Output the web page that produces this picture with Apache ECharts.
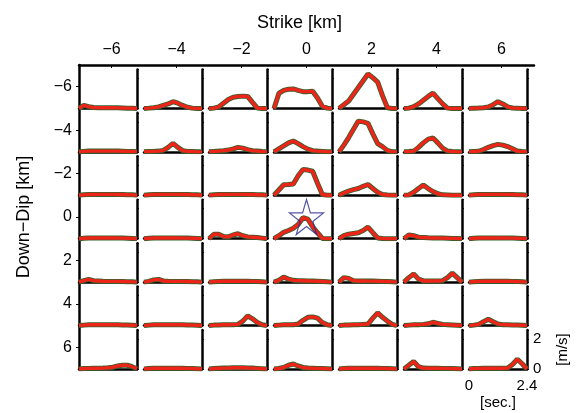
<!DOCTYPE html>
<html>
<head>
<meta charset="utf-8">
<title>Slip rate functions</title>
<script src="https://cdn.jsdelivr.net/npm/echarts@6/dist/echarts.min.js"></script>
<style>
html, body { margin: 0; padding: 0; background: #fff; }
#main { width: 577px; height: 413px; }
</style>
</head>
<body>
<div id="main"></div>
<script>
// time samples [sec.]
var times = [0, 0.2, 0.4, 0.6, 0.8, 1.0, 1.2, 1.4, 1.6, 1.8, 2.0, 2.2, 2.4];
var strikeKm = [-6, -4, -2, 0, 2, 4, 6];
var dipKm = [-6, -4, -2, 0, 2, 4, 6];
var hypocenter = [0, 0];
var timeLabels = [0, 2.4];

// slip rate [m/s], one array per down-dip row, cells from strike -6 to 6
var rowDipM6 = [
    [0, 0.2, 0.12, 0.06, 0.05, 0.05, 0.05, 0.05, 0.04, 0.03, 0.02, 0.01, 0],
    [0, 0.02, 0.05, 0.1, 0.2, 0.3, 0.45, 0.35, 0.2, 0.08, 0.02, 0, 0],
    [0, 0.02, 0.1, 0.35, 0.6, 0.75, 0.8, 0.82, 0.8, 0.4, 0.02, 0, 0],
    [0, 1.0, 1.2, 1.28, 1.3, 1.2, 1.12, 1.12, 1.15, 0.7, 0.15, 0.02, 0],
    [0, 0.25, 0.5, 0.95, 1.4, 1.85, 2.3, 2.05, 1.75, 0.85, 0.05, 0, 0],
    [0, 0.02, 0.12, 0.3, 0.55, 0.8, 1.02, 0.65, 0.3, 0.02, 0, 0, 0],
    [0, 0.02, 0.03, 0.05, 0.1, 0.25, 0.45, 0.3, 0.1, 0.03, 0.02, 0, 0]
];
var rowDipM4 = [
    [0, 0.03, 0.05, 0.05, 0.05, 0.05, 0.05, 0.05, 0.05, 0.04, 0.03, 0.02, 0],
    [0, 0.02, 0.03, 0.05, 0.1, 0.3, 0.57, 0.3, 0.08, 0.03, 0.02, 0, 0],
    [0, 0.03, 0.05, 0.08, 0.12, 0.2, 0.3, 0.25, 0.15, 0.08, 0.05, 0.02, 0],
    [0, 0.2, 0.4, 0.6, 0.72, 0.55, 0.35, 0.18, 0.08, 0.05, 0.03, 0.01, 0],
    [0, 0.45, 0.95, 1.5, 2.05, 2.0, 1.9, 1.2, 0.55, 0.35, 0.1, 0, 0],
    [0, 0.02, 0.05, 0.3, 0.6, 0.85, 0.92, 0.6, 0.25, 0.05, 0.02, 0, 0],
    [0, 0.02, 0.04, 0.15, 0.3, 0.42, 0.5, 0.45, 0.35, 0.2, 0.05, 0.02, 0]
];
var rowDipM2 = [
    [0, 0.03, 0.05, 0.05, 0.06, 0.06, 0.06, 0.06, 0.05, 0.05, 0.04, 0.03, 0],
    [0, 0.03, 0.05, 0.05, 0.06, 0.06, 0.06, 0.06, 0.05, 0.05, 0.04, 0.03, 0],
    [0, 0.03, 0.05, 0.05, 0.06, 0.06, 0.06, 0.06, 0.05, 0.05, 0.04, 0.03, 0],
    [0, 0.35, 0.7, 0.72, 0.75, 1.3, 1.72, 1.68, 1.6, 0.8, 0.05, 0, 0],
    [0, 0.15, 0.28, 0.38, 0.45, 0.6, 0.72, 0.45, 0.2, 0.05, 0.02, 0, 0],
    [0, 0.02, 0.2, 0.45, 0.68, 0.45, 0.25, 0.1, 0.03, 0.02, 0, 0, 0],
    [0, 0.03, 0.05, 0.05, 0.06, 0.06, 0.06, 0.06, 0.05, 0.05, 0.04, 0.03, 0]
];
var rowDip0 = [
    [0, 0.03, 0.05, 0.05, 0.05, 0.05, 0.05, 0.05, 0.05, 0.04, 0.03, 0.02, 0],
    [0, 0.03, 0.05, 0.05, 0.05, 0.05, 0.05, 0.05, 0.05, 0.04, 0.03, 0.02, 0],
    [0, 0.3, 0.3, 0.15, 0.12, 0.25, 0.33, 0.2, 0.12, 0.1, 0.08, 0.04, 0],
    [0, 0.2, 0.42, 0.55, 0.7, 0.95, 1.4, 1.3, 0.8, 0.4, 0.02, 0, 0],
    [0, 0.2, 0.3, 0.35, 0.4, 0.55, 0.77, 0.4, 0.05, 0.02, 0, 0, 0],
    [0, 0.25, 0.2, 0.1, 0.08, 0.06, 0.05, 0.05, 0.04, 0.03, 0.02, 0.01, 0],
    [0, 0.03, 0.05, 0.05, 0.05, 0.05, 0.05, 0.05, 0.05, 0.04, 0.03, 0.02, 0]
];
var rowDip2 = [
    [0, 0.1, 0.18, 0.1, 0.08, 0.06, 0.05, 0.05, 0.05, 0.04, 0.03, 0.02, 0],
    [0, 0.05, 0.15, 0.18, 0.08, 0.06, 0.05, 0.05, 0.05, 0.04, 0.03, 0.02, 0],
    [0, 0.03, 0.05, 0.06, 0.06, 0.06, 0.06, 0.06, 0.06, 0.05, 0.04, 0.02, 0],
    [0, 0.12, 0.33, 0.2, 0.12, 0.1, 0.09, 0.08, 0.07, 0.06, 0.04, 0.02, 0],
    [0, 0.3, 0.25, 0.1, 0.08, 0.08, 0.07, 0.07, 0.06, 0.05, 0.04, 0.02, 0],
    [0, 0.3, 0.55, 0.2, 0.08, 0.08, 0.08, 0.08, 0.1, 0.3, 0.6, 0.3, 0],
    [0, 0.03, 0.05, 0.06, 0.06, 0.06, 0.06, 0.06, 0.06, 0.05, 0.04, 0.02, 0]
];
var rowDip4 = [
    [0, 0.03, 0.05, 0.05, 0.05, 0.05, 0.05, 0.05, 0.05, 0.04, 0.03, 0.02, 0],
    [0, 0.03, 0.05, 0.05, 0.05, 0.05, 0.05, 0.05, 0.05, 0.04, 0.03, 0.02, 0],
    [0, 0.03, 0.04, 0.05, 0.05, 0.06, 0.08, 0.3, 0.65, 0.45, 0.2, 0.05, 0],
    [0, 0.03, 0.05, 0.05, 0.06, 0.1, 0.35, 0.55, 0.58, 0.5, 0.2, 0.05, 0],
    [0, 0.03, 0.04, 0.05, 0.06, 0.08, 0.1, 0.5, 0.85, 0.55, 0.3, 0.08, 0],
    [0, 0.03, 0.05, 0.06, 0.08, 0.12, 0.22, 0.15, 0.08, 0.06, 0.04, 0.02, 0],
    [0, 0.03, 0.08, 0.25, 0.42, 0.25, 0.1, 0.06, 0.05, 0.04, 0.03, 0.02, 0]
];
var rowDip6 = [
    [0, 0.03, 0.04, 0.05, 0.05, 0.06, 0.08, 0.12, 0.2, 0.25, 0.25, 0.15, 0.02],
    [0, 0.03, 0.05, 0.05, 0.05, 0.05, 0.05, 0.05, 0.05, 0.04, 0.03, 0.02, 0],
    [0, 0.03, 0.05, 0.06, 0.07, 0.08, 0.08, 0.08, 0.07, 0.06, 0.04, 0.02, 0],
    [0, 0.03, 0.1, 0.25, 0.33, 0.2, 0.1, 0.06, 0.05, 0.04, 0.03, 0.02, 0],
    [0, 0.03, 0.05, 0.05, 0.05, 0.05, 0.05, 0.05, 0.05, 0.04, 0.03, 0.02, 0],
    [0, 0.25, 0.5, 0.15, 0.06, 0.05, 0.05, 0.05, 0.04, 0.04, 0.03, 0.02, 0],
    [0, 0.03, 0.04, 0.05, 0.05, 0.05, 0.05, 0.05, 0.06, 0.3, 0.65, 0.35, 0]
];
var rows = [rowDipM6, rowDipM4, rowDipM2, rowDip0, rowDip2, rowDip4, rowDip6];

var FONT = 'Liberation Sans, Arial, sans-serif';
function minus(v) { return String(v).replace('-', '\u2212'); }

// outer frame
var L = 79, T = 65, W = 455, H = 304;
var pitchX = W / 7, pitchY = H / 7;
var cellW = 58, cellH = 39;

var grids = [{ left: L, top: T, width: W, height: H }];
var xAxes = [{
    gridIndex: 0, type: 'value', min: -7, max: 7, position: 'top',
    axisLine: { onZero: false, lineStyle: { color: '#000', width: 2.5 } },
    axisTick: { inside: true, length: 3, customValues: strikeKm, lineStyle: { color: '#000' } },
    axisLabel: { customValues: strikeKm, formatter: minus, color: '#000', fontSize: 16, fontFamily: FONT, margin: 7 },
    splitLine: { show: false },
    name: 'Strike [km]', nameLocation: 'middle', nameGap: 33,
    nameTextStyle: { color: '#000', fontSize: 18, fontFamily: FONT, padding: [0, 14, 0, 0] }
}];
var yAxes = [{
    gridIndex: 0, type: 'value', min: -7, max: 7, inverse: true,
    axisLine: { onZero: false, lineStyle: { color: '#000', width: 2.5 } },
    axisTick: { length: 3, customValues: dipKm, lineStyle: { color: '#000' } },
    axisLabel: { customValues: dipKm, formatter: minus, color: '#000', fontSize: 16, fontFamily: FONT, margin: 7 },
    splitLine: { show: false },
    name: 'Down\u2212Dip [km]', nameLocation: 'middle', nameGap: 46,
    nameTextStyle: { color: '#000', fontSize: 18, fontFamily: FONT }
}];
var series = [{
    type: 'scatter', xAxisIndex: 0, yAxisIndex: 0, z: 6,
    data: [hypocenter],
    symbol: 'path://M50,0 L61,35 L98,35 L68,57 L79,91 L50,70 L21,91 L32,57 L2,35 L39,35 Z',
    symbolSize: [34, 35],
    itemStyle: { color: 'rgba(0,0,0,0)', borderColor: '#2b2b92', borderWidth: 1.2 }
}];

rows.forEach(function (row, r) {
    row.forEach(function (vals, c) {
        var gi = grids.length;
        var last = (r === rows.length - 1 && c === row.length - 1);
        var base = T + pitchY * (r + 1);
        grids.push({ left: L + pitchX * c, top: base - cellH, width: cellW, height: cellH });
        xAxes.push({
            gridIndex: gi, type: 'value', min: 0, max: 2.4,
            axisLine: { lineStyle: { color: '#000', width: 2.5 } },
            axisTick: { show: false },
            axisLabel: { show: last, customValues: timeLabels, color: '#000', fontSize: 15, fontFamily: FONT, margin: 9 },
            splitLine: { show: false },
            name: last ? '[sec.]' : '', nameLocation: 'middle', nameGap: 26,
            nameTextStyle: { color: '#000', fontSize: 15, fontFamily: FONT }
        });
        yAxes.push({
            gridIndex: gi, type: 'value', min: 0, max: 2.6, interval: 2, position: 'right',
            axisLine: { onZero: false, lineStyle: { color: '#000', width: 2.5 } },
            axisTick: { show: true, length: 2, lineStyle: { color: '#000' } },
            axisLabel: { show: last, color: '#000', fontSize: 15, fontFamily: FONT, margin: 6,
                formatter: function (v) { return v === 0 || v === 2 ? String(v) : ''; } },
            splitLine: { show: false },
            name: last ? '[m/s]' : '', nameLocation: 'middle', nameGap: 28,
            nameTextStyle: { color: '#000', fontSize: 15, fontFamily: FONT }
        });
        var pts = times.map(function (t, i) { return [t, vals[i]]; });
        series.push({
            type: 'line', xAxisIndex: gi, yAxisIndex: gi, data: pts, symbol: 'none',
            lineStyle: { color: '#35602a', width: 5 }, z: 3
        });
        series.push({
            type: 'line', xAxisIndex: gi, yAxisIndex: gi, data: pts, symbol: 'none',
            lineStyle: { color: '#ec2419', width: 3.4 }, z: 4
        });
    });
});

var myChart = echarts.init(document.getElementById('main'), null, { renderer: 'canvas' });
myChart.setOption({
    backgroundColor: '#fff',
    animation: false,
    grid: grids,
    xAxis: xAxes,
    yAxis: yAxes,
    series: series
});
</script>
</body>
</html>
